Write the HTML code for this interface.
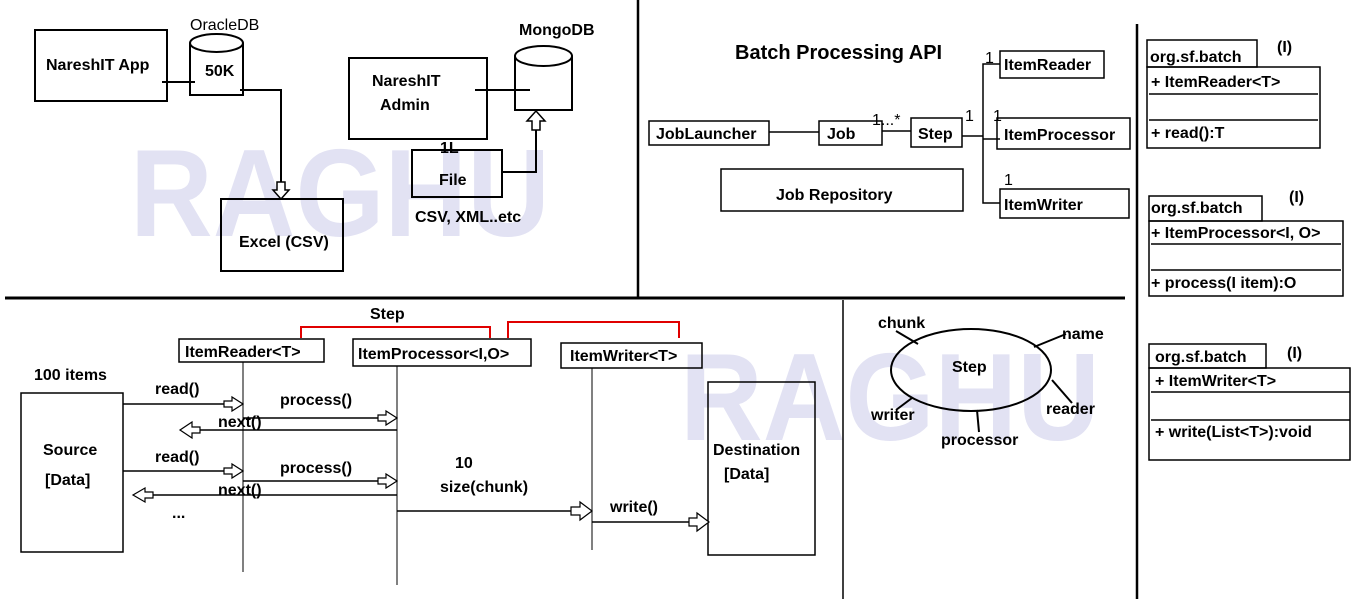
<!DOCTYPE html>
<html><head><meta charset="utf-8"><style>
html,body{margin:0;padding:0;background:#fff;}
svg{display:block;}
text{font-family:"Liberation Sans",sans-serif;font-weight:bold;fill:#000;}
</style></head><body>
<svg width="1366" height="599" viewBox="0 0 1366 599" xmlns="http://www.w3.org/2000/svg">
<!-- watermarks -->
<text x="130" y="236" textLength="420" lengthAdjust="spacingAndGlyphs" style="font-size:124px;fill:#e2e2f3">RAGHU</text>
<text x="680" y="440" textLength="420" lengthAdjust="spacingAndGlyphs" style="font-size:124px;fill:#e2e2f3">RAGHU</text>

<g fill="none" stroke="#000" stroke-width="2">
<!-- dividers -->
<line x1="5" y1="298" x2="1125" y2="298" stroke-width="3"/>
<line x1="638" y1="0" x2="638" y2="298" stroke-width="2.5"/>
<line x1="1137" y1="24" x2="1137" y2="599" stroke-width="2.5"/>
<line x1="843" y1="300" x2="843" y2="599" stroke-width="1.5"/>

<!-- top left -->
<rect x="35" y="30" width="132" height="71"/>
<path d="M190 43 V95 H243 V43"/>
<ellipse cx="216.5" cy="43" rx="26.5" ry="9" fill="#fff"/>
<line x1="162" y1="82" x2="195" y2="82"/>
<path d="M240 90 H281 V182"/>
<polygon points="277,182 277,190 273,190 281,199 289,190 285,190 285,182" fill="#fff" stroke-width="1.5"/>
<rect x="221" y="199" width="122" height="72"/>
<rect x="349" y="58" width="138" height="81"/>
<path d="M515 56 V110 H572 V56"/>
<ellipse cx="543.5" cy="56" rx="28.5" ry="10" fill="#fff"/>
<line x1="475" y1="90" x2="530" y2="90"/>
<rect x="412" y="150" width="90" height="47"/>
<path d="M502 172 H536 V130"/>
<polygon points="532,130 532,121 527,121 536,111 545,121 540,121 540,130" fill="#fff" stroke-width="1.5"/>

<!-- batch API -->
<g stroke-width="1.5">
<rect x="649" y="121" width="120" height="24"/>
<line x1="769" y1="132" x2="819" y2="132"/>
<rect x="819" y="121" width="63" height="24"/>
<line x1="882" y1="131" x2="911" y2="131"/>
<rect x="911" y="118" width="51" height="29"/>
<line x1="962" y1="136" x2="983" y2="136"/>
<path d="M1000 64 H983 V203 H1000"/>
<line x1="983" y1="139" x2="1000" y2="139"/>
<rect x="1000" y="51" width="104" height="27"/>
<rect x="997" y="118" width="133" height="31"/>
<rect x="1000" y="189" width="129" height="29"/>
<rect x="721" y="169" width="242" height="42"/>
</g>

<!-- UML -->
<g stroke-width="1.5">
<rect x="1147" y="40" width="110" height="27"/>
<rect x="1147" y="67" width="173" height="81"/>
<line x1="1149" y1="94" x2="1318" y2="94"/>
<line x1="1149" y1="120" x2="1318" y2="120"/>
<rect x="1149" y="196" width="113" height="25"/>
<rect x="1149" y="221" width="194" height="75"/>
<line x1="1151" y1="244" x2="1341" y2="244"/>
<line x1="1151" y1="270" x2="1341" y2="270"/>
<rect x="1149" y="344" width="117" height="24"/>
<rect x="1149" y="368" width="201" height="92"/>
<line x1="1151" y1="392" x2="1350" y2="392"/>
<line x1="1151" y1="420" x2="1350" y2="420"/>
</g>

<!-- bottom sequence -->
<g stroke-width="1.5">
<path d="M301 338 V327 H490 V338" stroke="#e00000" stroke-width="2"/>
<path d="M508 338 V322 H679 V338" stroke="#e00000" stroke-width="2"/>
<rect x="179" y="339" width="145" height="23"/>
<rect x="353" y="339" width="178" height="27"/>
<rect x="561" y="343" width="141" height="25"/>
<line x1="243" y1="362" x2="243" y2="572" stroke-width="1"/>
<line x1="397" y1="366" x2="397" y2="585" stroke-width="1"/>
<line x1="592" y1="368" x2="592" y2="550" stroke-width="1"/>
<rect x="21" y="393" width="102" height="159"/>
<rect x="708" y="382" width="107" height="173"/>
<line x1="123" y1="404" x2="232" y2="404"/>
<line x1="243" y1="418" x2="386" y2="418"/>
<line x1="397" y1="430" x2="192" y2="430"/>
<line x1="123" y1="471" x2="232" y2="471"/>
<line x1="243" y1="481" x2="386" y2="481"/>
<line x1="397" y1="495" x2="145" y2="495"/>
<line x1="397" y1="511" x2="580" y2="511"/>
<line x1="592" y1="522" x2="697" y2="522"/>
</g>
<g stroke-width="1.2" fill="#fff">
<polygon points="224,401 232,401 232,397 243,404 232,411 232,407 224,407"/>
<polygon points="378,415 386,415 386,411 397,418 386,425 386,421 378,421"/>
<polygon points="200,427 192,427 192,422 180,430 192,438 192,433 200,433"/>
<polygon points="224,468 232,468 232,464 243,471 232,478 232,474 224,474"/>
<polygon points="378,478 386,478 386,474 397,481 386,488 386,484 378,484"/>
<polygon points="153,492 145,492 145,488 133,495 145,502 145,498 153,498"/>
<polygon points="571,507 580,507 580,502 592,511 580,520 580,515 571,515"/>
<polygon points="689,518 697,518 697,513 709,522 697,531 697,526 689,526"/>
</g>

<!-- step ellipse -->
<ellipse cx="971" cy="370" rx="80" ry="41"/>
<line x1="896" y1="331" x2="918" y2="344"/>
<line x1="1034" y1="347" x2="1066" y2="334"/>
<line x1="1052" y1="380" x2="1072" y2="403"/>
<line x1="977" y1="410" x2="979" y2="432"/>
<line x1="896" y1="410" x2="912" y2="398"/>
</g>

<!-- texts -->
<g style="font-size:16px">
<text x="46" y="70">NareshIT App</text>
<text x="190" y="30" style="font-weight:normal">OracleDB</text>
<text x="205" y="76">50K</text>
<text x="239" y="247">Excel (CSV)</text>
<text x="519" y="35">MongoDB</text>
<text x="372" y="86">NareshIT</text>
<text x="380" y="110">Admin</text>
<text x="440" y="153">1L</text>
<text x="439" y="185">File</text>
<text x="415" y="222">CSV, XML..etc</text>

<text x="735" y="59" style="font-size:20px">Batch Processing API</text>
<text x="656" y="139">JobLauncher</text>
<text x="827" y="139">Job</text>
<text x="872" y="125" style="font-weight:normal">1...*</text>
<text x="918" y="139">Step</text>
<text x="965" y="121" style="font-weight:normal">1</text>
<text x="985" y="63" style="font-weight:normal">1</text>
<text x="993" y="121" style="font-weight:normal">1</text>
<text x="1004" y="185" style="font-weight:normal">1</text>
<text x="1004" y="70">ItemReader</text>
<text x="1004" y="140">ItemProcessor</text>
<text x="1004" y="210">ItemWriter</text>
<text x="776" y="200">Job Repository</text>

<text x="1150" y="62">org.sf.batch</text>
<text x="1277" y="52">(I)</text>
<text x="1151" y="87">+ ItemReader&lt;T&gt;</text>
<text x="1151" y="138">+ read():T</text>
<text x="1151" y="213">org.sf.batch</text>
<text x="1289" y="202">(I)</text>
<text x="1151" y="238">+ ItemProcessor&lt;I, O&gt;</text>
<text x="1151" y="288">+ process(I item):O</text>
<text x="1155" y="362">org.sf.batch</text>
<text x="1287" y="358">(I)</text>
<text x="1155" y="386">+ ItemWriter&lt;T&gt;</text>
<text x="1155" y="437">+ write(List&lt;T&gt;):void</text>

<text x="370" y="319">Step</text>
<text x="185" y="357">ItemReader&lt;T&gt;</text>
<text x="358" y="359">ItemProcessor&lt;I,O&gt;</text>
<text x="570" y="361">ItemWriter&lt;T&gt;</text>
<text x="34" y="380">100 items</text>
<text x="43" y="455">Source</text>
<text x="45" y="485">[Data]</text>
<text x="155" y="394">read()</text>
<text x="280" y="405">process()</text>
<text x="218" y="427">next()</text>
<text x="155" y="462">read()</text>
<text x="280" y="473">process()</text>
<text x="218" y="495">next()</text>
<text x="172" y="518">...</text>
<text x="455" y="468">10</text>
<text x="440" y="492">size(chunk)</text>
<text x="610" y="512">write()</text>
<text x="713" y="455">Destination</text>
<text x="724" y="479">[Data]</text>

<text x="952" y="372">Step</text>
<text x="878" y="328">chunk</text>
<text x="1062" y="339">name</text>
<text x="1046" y="414">reader</text>
<text x="941" y="445">processor</text>
<text x="871" y="420">writer</text>
</g>
</svg>
</body></html>
